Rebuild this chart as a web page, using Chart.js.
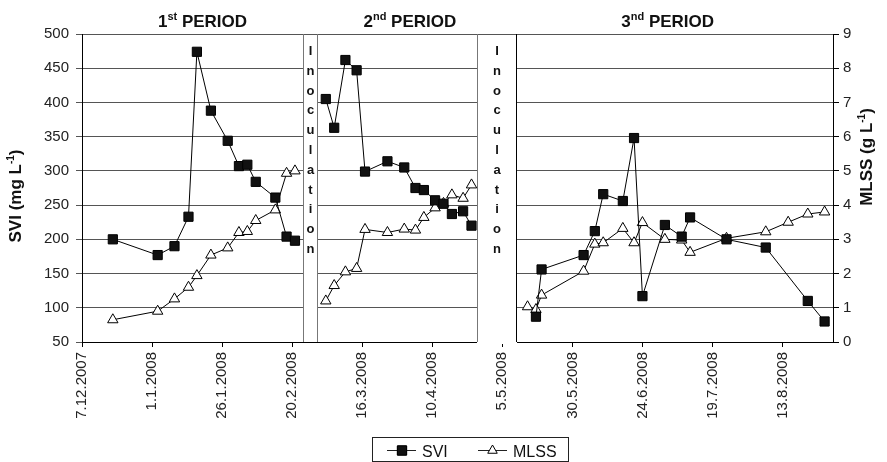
<!DOCTYPE html>
<html>
<head>
<meta charset="utf-8">
<script src="https://cdn.jsdelivr.net/npm/chart.js@4/dist/chart.umd.min.js"></script>
<style>
  html, body { margin: 0; padding: 0; background: #fff; }
  #wrap { width: 887px; height: 462px; }
</style>
</head>
<body>
<div id="wrap"><canvas id="svChart" width="887" height="462"></canvas></div>
<script>
// sampling dates and values, one group per operating period
var p1Dates = ['18.12.2007', '3.1.2008', '9.1.2008', '14.1.2008', '17.1.2008', '22.1.2008', '28.1.2008',
               '1.2.2008', '4.2.2008', '7.2.2008', '14.2.2008', '18.2.2008', '21.2.2008'];
var p1Svi  = [200, 177, 190, 233, 474, 388, 344, 307, 309, 284, 261, 204, 198];
var p1Mlss = [0.65, 0.9, 1.26, 1.6, 1.94, 2.54, 2.75, 3.2, 3.23, 3.55, 3.86, 4.93, 5.0];

var p2Dates = ['3.3.2008', '6.3.2008', '10.3.2008', '14.3.2008', '17.3.2008', '25.3.2008', '31.3.2008',
               '4.4.2008', '7.4.2008', '11.4.2008', '14.4.2008', '17.4.2008', '21.4.2008', '24.4.2008'];
var p2Svi  = [405, 363, 462, 447, 299, 314, 305, 275, 272, 257, 252, 237, 241, 220];
var p2Mlss = [1.2, 1.65, 2.05, 2.15, 3.29, 3.2, 3.3, 3.27, 3.64, 3.92, 4.05, 4.3, 4.2, 4.59];

var p3SviDates = ['17.5.2008', '19.5.2008', '3.6.2008', '7.6.2008', '10.6.2008', '17.6.2008', '21.6.2008',
                  '24.6.2008', '2.7.2008', '8.7.2008', '11.7.2008', '24.7.2008', '7.8.2008', '22.8.2008', '28.8.2008'];
var p3Svi = [87, 156, 177, 212, 266, 256, 348, 117, 221, 204, 232, 200, 188, 110, 80];
var p3MlssDates = ['14.5.2008', '17.5.2008', '19.5.2008', '3.6.2008', '7.6.2008', '10.6.2008', '17.6.2008',
                   '21.6.2008', '24.6.2008', '2.7.2008', '8.7.2008', '11.7.2008', '24.7.2008', '7.8.2008',
                   '15.8.2008', '22.8.2008', '28.8.2008'];
var p3Mlss = [1.03, 0.95, 1.37, 2.07, 2.86, 2.9, 3.32, 2.9, 3.49, 3.0, 2.98, 2.62, 3.03, 3.22, 3.5, 3.74, 3.8];

var xTickLabels = ['7.12.2007', '1.1.2008', '26.1.2008', '20.2.2008', '16.3.2008', '10.4.2008',
                   '5.5.2008', '30.5.2008', '24.6.2008', '19.7.2008', '13.8.2008'];
var xEndDate = '31.8.2008';
var sviTicks = [50, 100, 150, 200, 250, 300, 350, 400, 450, 500];
var mlssTicks = [0, 1, 2, 3, 4, 5, 6, 7, 8, 9];

var inoculations = [['24.2.2008', '29.2.2008'], ['26.4.2008', '10.5.2008']];
var periodTitles = [['1', 'st'], ['2', 'nd'], ['3', 'nd']];
var periodTitleDates = ['19.1.2008', '2.4.2008', '3.7.2008'];

var FONT = '"Liberation Sans", Arial, sans-serif';
var T0 = Date.UTC(2007, 11, 7);

function dayOf(s) {
    var p = s.split('.').map(Number);
    return Math.round((Date.UTC(p[2], p[1] - 1, p[0]) - T0) / 864e5);
}

function fmtDay(day) {
    var d = new Date(T0 + day * 864e5);
    return d.getUTCDate() + '.' + (d.getUTCMonth() + 1) + '.' + d.getUTCFullYear();
}

// join periods, with a null point between them so the line breaks
function buildSeries(dateGroups, valueGroups) {
    var out = [];
    dateGroups.forEach(function(dates, g) {
        if (g > 0) out.push({ x: dayOf(dates[0]), y: null });
        dates.forEach(function(d, i) {
            out.push({ x: dayOf(d), y: valueGroups[g][i] });
        });
    });
    return out;
}

var sviData = buildSeries([p1Dates, p2Dates, p3SviDates], [p1Svi, p2Svi, p3Svi]);
var mlssData = buildSeries([p1Dates, p2Dates, p3MlssDates], [p1Mlss, p2Mlss, p3Mlss]);

// text with a raised small part, e.g. 1st or L-1
function drawRich(ctx, parts, x, y, angle) {
    ctx.save();
    ctx.translate(x, y);
    ctx.rotate(angle || 0);
    var total = 0;
    parts.forEach(function(p) {
        ctx.font = 'bold ' + p.size + 'px ' + FONT;
        p.w = ctx.measureText(p.t).width;
        total += p.w;
    });
    var cx = -total / 2;
    ctx.textBaseline = 'alphabetic';
    ctx.textAlign = 'left';
    ctx.fillStyle = '#111';
    parts.forEach(function(p) {
        ctx.font = 'bold ' + p.size + 'px ' + FONT;
        ctx.fillText(p.t, cx, -(p.rise || 0));
        cx += p.w;
    });
    ctx.restore();
}

var bandsPlugin = {
    id: 'bands',
    beforeDatasetsDraw: function(chart) {
        var ctx = chart.ctx, a = chart.chartArea, xs = chart.scales.x;
        ctx.save();
        inoculations.forEach(function(b, i) {
            var x1 = Math.round(xs.getPixelForValue(dayOf(b[0])));
            var x2 = Math.round(xs.getPixelForValue(dayOf(b[1])));
            var last = i === inoculations.length - 1;
            ctx.fillStyle = '#fff';
            ctx.fillRect(x1, a.top + 1, x2 - x1 + 1, a.bottom - a.top - (last ? -1 : 1));
            ctx.lineWidth = 1;
            ctx.strokeStyle = '#777';
            ctx.beginPath();
            ctx.moveTo(x1 + 0.5, a.top);
            ctx.lineTo(x1 + 0.5, a.bottom);
            ctx.stroke();
            ctx.strokeStyle = last ? '#000' : '#777';
            ctx.beginPath();
            ctx.moveTo(x2 + 0.5, a.top);
            ctx.lineTo(x2 + 0.5, a.bottom);
            ctx.stroke();
            // vertical "Inoculation"
            var cx = (x1 + x2) / 2 + 0.5;
            ctx.fillStyle = '#111';
            ctx.font = 'bold 13px ' + FONT;
            ctx.textAlign = 'center';
            ctx.textBaseline = 'alphabetic';
            'Inoculation'.split('').forEach(function(ch, k) {
                ctx.fillText(ch, cx, 55 + k * 19.8);
            });
        });
        ctx.restore();
    },
    afterDraw: function(chart) {
        var ctx = chart.ctx, xs = chart.scales.x;
        // period titles
        periodTitles.forEach(function(t, i) {
            var px = xs.getPixelForValue(dayOf(periodTitleDates[i]));
            drawRich(ctx, [{ t: t[0], size: 17 }, { t: t[1], size: 11, rise: 7 }, { t: ' PERIOD', size: 17 }], px, 27);
        });
        // axis titles
        drawRich(ctx, [{ t: 'SVI (mg L', size: 17 }, { t: '-1', size: 10, rise: 7 }, { t: ')', size: 17 }],
                 21, 196, -Math.PI / 2);
        drawRich(ctx, [{ t: 'MLSS (g L', size: 17 }, { t: '-1', size: 10, rise: 7 }, { t: ')', size: 17 }],
                 872, 157, -Math.PI / 2);

        // legend box
        ctx.save();
        ctx.strokeStyle = '#222';
        ctx.lineWidth = 1;
        ctx.strokeRect(372.5, 437.5, 196, 24);
        var ly = 450.5;
        ctx.beginPath();
        ctx.moveTo(387, ly); ctx.lineTo(416, ly);
        ctx.moveTo(478, ly); ctx.lineTo(507, ly);
        ctx.stroke();
        var ds = chart.data.datasets;
        Chart.helpers.drawPoint(ctx, {
            pointStyle: ds[0].pointStyle, radius: ds[0].pointRadius, borderWidth: 1
        }, 402, ly);
        ctx.fillStyle = ds[0].pointBackgroundColor;
        ctx.strokeStyle = '#000';
        ctx.fill(); ctx.stroke();
        ctx.beginPath();
        ctx.fillStyle = '#fff';
        Chart.helpers.drawPoint(ctx, {
            pointStyle: ds[1].pointStyle, radius: 5.5, borderWidth: 1
        }, 492.5, ly);
        ctx.fillStyle = '#111';
        ctx.font = '16px ' + FONT;
        ctx.textBaseline = 'alphabetic';
        ctx.textAlign = 'left';
        ctx.fillText('SVI', 422, 457);
        ctx.fillText('MLSS', 513, 457);
        ctx.restore();
    }
};

var tickFont = { family: FONT, size: 15 };

var ctx = document.getElementById('svChart').getContext('2d');
var svChart = new Chart(ctx, {
    type: 'line',
    data: {
        datasets: [{
            label: 'SVI',
            data: sviData,
            yAxisID: 'y',
            borderColor: '#000',
            borderWidth: 1,
            pointStyle: 'rect',
            pointRadius: 6.5,
            pointBackgroundColor: '#111',
            pointBorderColor: '#000',
            pointBorderWidth: 1,
            spanGaps: false
        }, {
            label: 'MLSS',
            data: mlssData,
            yAxisID: 'y1',
            borderColor: '#000',
            borderWidth: 1,
            pointStyle: 'triangle',
            pointRadius: 6,
            pointBackgroundColor: '#fff',
            pointBorderColor: '#000',
            pointBorderWidth: 1,
            spanGaps: false
        }]
    },
    options: {
        responsive: false,
        animation: false,
        layout: { padding: { top: 34, left: 0, right: 0, bottom: 0 } },
        plugins: {
            legend: { display: false },
            tooltip: { enabled: false }
        },
        scales: {
            x: {
                type: 'linear',
                min: dayOf(xTickLabels[0]),
                max: dayOf(xEndDate),
                afterFit: function(s) { s.height = 120; },
                afterBuildTicks: function(s) {
                    s.ticks = xTickLabels.map(function(l) { return { value: dayOf(l) }; });
                },
                grid: { drawOnChartArea: false, drawTicks: true, tickLength: 5, color: '#000' },
                border: { color: '#000' },
                ticks: {
                    autoSkip: false,
                    minRotation: 90,
                    maxRotation: 90,
                    padding: 5,
                    font: tickFont,
                    color: '#222',
                    callback: function(v) { return fmtDay(v); }
                }
            },
            y: {
                position: 'left',
                min: sviTicks[0],
                max: sviTicks[sviTicks.length - 1],
                afterFit: function(s) { s.width = 82; },
                ticks: { stepSize: sviTicks[1] - sviTicks[0], padding: 7, font: tickFont, color: '#222' },
                grid: { color: '#555', tickLength: 6 },
                border: { color: '#000' }
            },
            y1: {
                position: 'right',
                min: mlssTicks[0],
                max: mlssTicks[mlssTicks.length - 1],
                afterFit: function(s) { s.width = 54; },
                ticks: { stepSize: mlssTicks[1] - mlssTicks[0], padding: 4, font: tickFont, color: '#222' },
                grid: { drawOnChartArea: false, tickLength: 6, color: '#000' },
                border: { color: '#000' }
            }
        }
    },
    plugins: [bandsPlugin]
});
</script>
</body>
</html>
